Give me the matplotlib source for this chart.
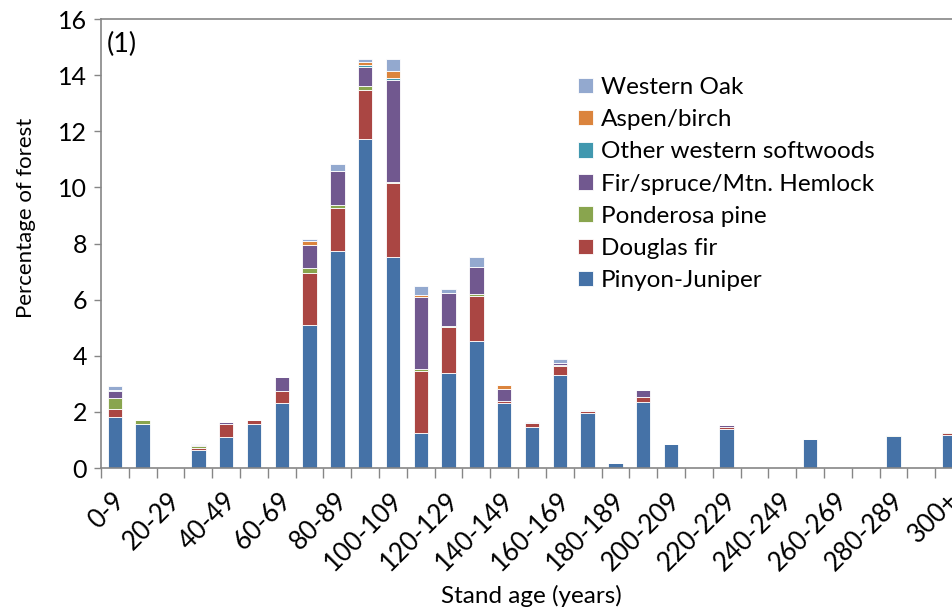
import matplotlib
matplotlib.use("Agg")
import matplotlib.pyplot as plt
import matplotlib.transforms as mtransforms
import numpy as np

categories = ["0-9", "10-19", "20-29", "30-39", "40-49", "50-59", "60-69", "70-79",
              "80-89", "90-99", "100-109", "110-119", "120-129", "130-139", "140-149",
              "150-159", "160-169", "170-179", "180-189", "190-199", "200-209",
              "210-219", "220-229", "230-239", "240-249", "250-259", "260-269",
              "270-279", "280-289", "290-299", "300+"]

pinyon_juniper = [1.83, 1.56, 0, 0.64, 1.12, 1.56, 2.31, 5.10, 7.73, 11.71, 7.51, 1.24,
                  3.39, 4.51, 2.30, 1.45, 3.31, 1.97, 0.17, 2.36, 0.86, 0, 1.40, 0, 0,
                  1.03, 0, 0, 1.13, 0, 1.18]
douglas_fir = [0.26, 0, 0, 0.08, 0.44, 0.14, 0.42, 1.84, 1.55, 1.76, 2.64, 2.23,
               1.62, 1.63, 0.09, 0.14, 0.31, 0.05, 0, 0.16, 0, 0, 0.07, 0, 0,
               0, 0, 0, 0.02, 0, 0.06]
ponderosa_pine = [0.39, 0.15, 0, 0.05, 0, 0, 0, 0.18, 0.09, 0.15, 0.03, 0.06,
                  0.06, 0.06, 0.01, 0.01, 0.05, 0.01, 0, 0, 0, 0, 0, 0, 0,
                  0, 0, 0, 0.01, 0, 0.03]
fir_spruce = [0.28, 0, 0, 0.06, 0.09, 0, 0.51, 0.84, 1.23, 0.68, 3.65, 2.58,
              1.18, 0.97, 0.40, 0.02, 0.06, 0, 0, 0.26, 0, 0, 0.05, 0, 0,
              0, 0, 0, 0, 0, 0]
other_softwoods = [0.02, 0, 0, 0, 0, 0, 0, 0, 0, 0.06, 0.08, 0,
                   0, 0, 0, 0, 0.02, 0, 0, 0, 0, 0, 0, 0, 0,
                   0, 0, 0, 0, 0, 0]
aspen_birch = [0, 0, 0, 0, 0, 0, 0, 0.13, 0, 0.11, 0.25, 0.06,
               0, 0, 0.15, 0, 0, 0, 0, 0, 0, 0, 0, 0, 0,
               0, 0, 0, 0, 0, 0]
western_oak = [0.14, 0, 0, 0.02, 0, 0, 0, 0.06, 0.22, 0.11, 0.42, 0.32,
               0.13, 0.34, 0.02, 0.02, 0.15, 0.02, 0, 0, 0, 0, 0, 0, 0,
               0, 0, 0, 0.02, 0, 0]

series = [
    ("Pinyon-Juniper", pinyon_juniper, "#4572A7"),
    ("Douglas fir", douglas_fir, "#AA4643"),
    ("Ponderosa pine", ponderosa_pine, "#89A54E"),
    ("Fir/spruce/Mtn. Hemlock", fir_spruce, "#71588F"),
    ("Other western softwoods", other_softwoods, "#4198AF"),
    ("Aspen/birch", aspen_birch, "#DB843D"),
    ("Western Oak", western_oak, "#93A9CF"),
]

plt.rcParams['font.family'] = ['Lato', 'DejaVu Sans']
FS = 17.5

W, H = 952, 612
fig = plt.figure(figsize=(W / 100, H / 100), dpi=100)
ax = fig.add_axes([101 / W, (H - 468) / H, (963 - 101) / W, (468 - 19) / H])

x = np.arange(len(categories))
bottom = np.zeros(len(categories))
handles = []
for name, vals, col in series:
    v = np.array(vals, dtype=float)
    b = ax.bar(x, v, width=0.52, bottom=bottom, color=col, edgecolor="#ffffff",
               linewidth=0.6, label=name)
    handles.append(b)
    bottom += v

ax.set_xlim(-0.5, len(categories) - 0.5)
ax.set_ylim(0, 16)
ax.set_yticks(np.arange(0, 17, 2))
ax.tick_params(axis='y', labelsize=18, length=5, width=1, color="#868686",
               direction='out', pad=5)

ax.set_xticks(x[::2])
ax.set_xticklabels(categories[::2], rotation=45, ha='right', va='top',
                   rotation_mode='anchor', fontsize=18.5)
ax.tick_params(axis='x', which='major', length=0, pad=14)
shift = mtransforms.ScaledTranslation(-3 / 100, 0, fig.dpi_scale_trans)
for lab in ax.get_xticklabels():
    lab.set_transform(lab.get_transform() + shift)
ax.set_xticks(np.arange(-0.5, len(categories) - 0.4, 1), minor=True)
ax.tick_params(axis='x', which='minor', length=7, width=1, color="#868686",
               direction='out')

for s in ["left", "bottom", "top"]:
    ax.spines[s].set_color("#868686")
    ax.spines[s].set_linewidth(1.2)
ax.spines["right"].set_visible(False)

ax.text(0.007, 0.943, "(1)", transform=ax.transAxes, fontsize=19.5,
        ha='left', va='center')

fig.text(531 / W, 1 - 596 / H, "Stand age (years)", ha='center', va='center',
         fontsize=FS)
fig.text(26 / W, 1 - 218 / H, "Percentage of forest", ha='center', va='center',
         rotation=90, fontsize=16)

leg = ax.legend(handles[::-1], [s[0] for s in series][::-1],
                loc='upper left', bbox_to_anchor=(578 / W, 1 - 77 / H),
                bbox_transform=fig.transFigure, frameon=False, fontsize=FS,
                handlelength=0.6, handleheight=0.6, handletextpad=0.35,
                labelspacing=0.46, borderaxespad=0, borderpad=0)

fig.savefig("out.png", dpi=100)
